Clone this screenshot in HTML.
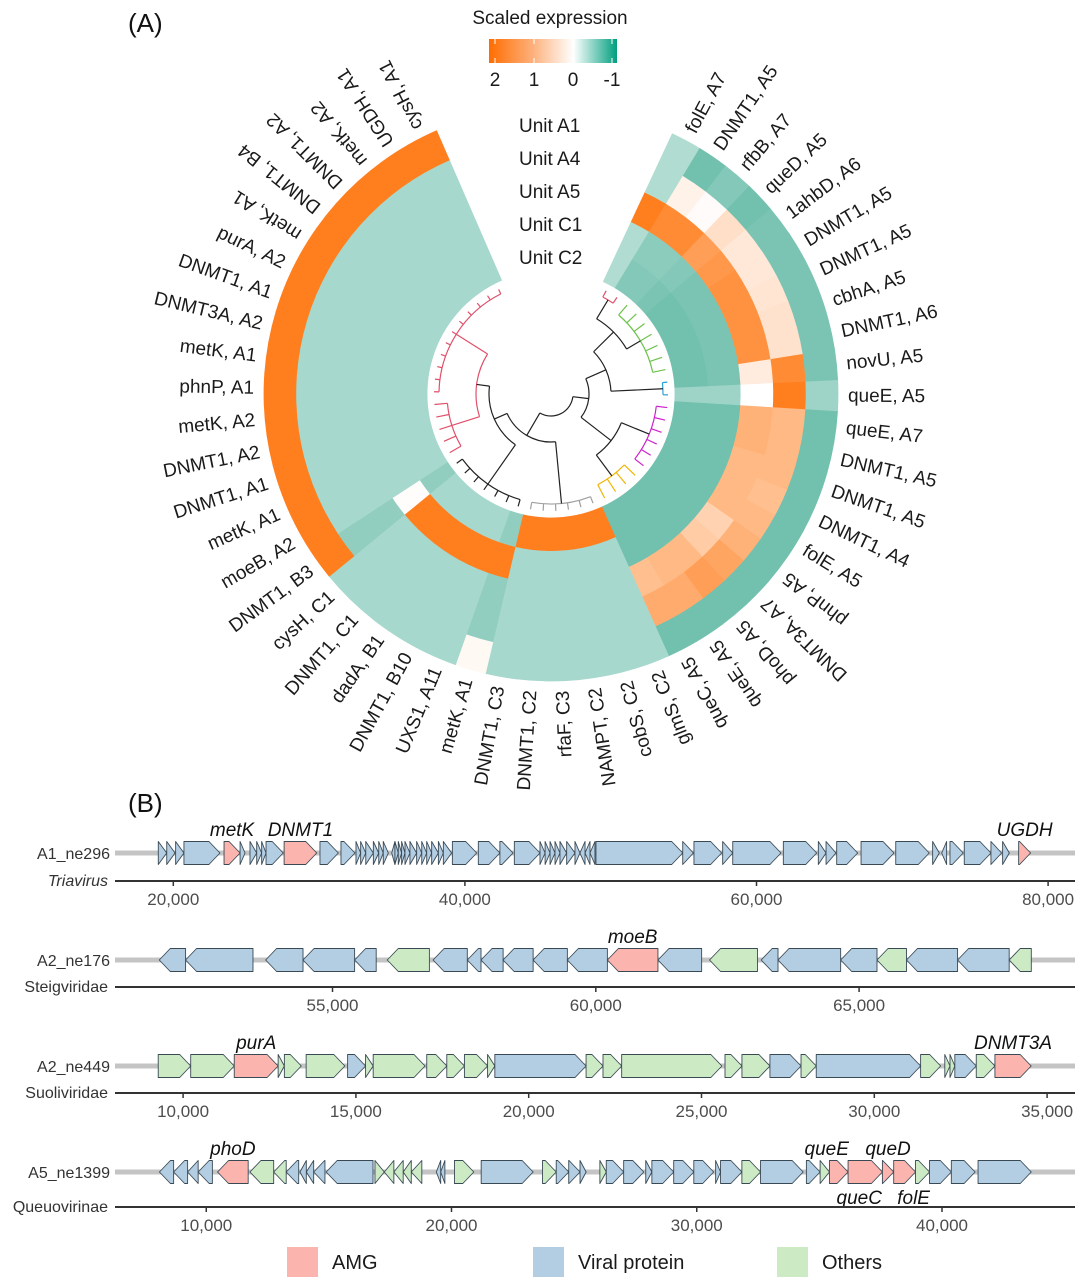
<!DOCTYPE html>
<html><head><meta charset="utf-8"><style>
body{margin:0;background:#fff;}
svg{display:block;font-family:"Liberation Sans",Arial,sans-serif;}
</style></head><body>
<svg id="fig" width="1080" height="1285" viewBox="0 0 1080 1285" xmlns="http://www.w3.org/2000/svg">
<g id="panelA"></g>
<g id="panelB"></g>
</svg>
<script>
// ---------- Panel A data ----------
const leafLabels = ["folE, A7","DNMT1, A5","rfbB, A7","queD, A5","1ahbD, A6","DNMT1, A5","DNMT1, A5","cbhA, A5","DNMT1, A6","novU, A5","queE, A5","queE, A7","DNMT1, A5","DNMT1, A5","DNMT1, A4","folE, A5","phnP, A5","DNMT3A, A7","phoD, A5","queE, A5","queC, A5","glmS, C2","cobS, C2","NAMPT, C2","rfaF, C3","DNMT1, C2","DNMT1, C3","metK, A1","UXS1, A11","DNMT1, B10","dadA, B1","DNMT1, C1","cysH, C1","DNMT1, B3","moeB, A2","metK, A1","DNMT1, A1","DNMT1, A2","metK, A2","phnP, A1","metK, A1","DNMT3A, A2","DNMT1, A1","purA, A2","metK, A1","DNMT1, B4","DNMT1, A2","metK, A2","UGDH, A1","cysH, A1"];
const unitNames = ["Unit A1","Unit A4","Unit A5","Unit C1","Unit C2"];
const unitA1 = [-0.45,-0.8,-0.7,-0.8,-0.75,-0.75,-0.75,-0.75,-0.75,-0.75,-0.55,-0.8,-0.8,-0.8,-0.8,-0.8,-0.8,-0.8,-0.8,-0.8,-0.8,-0.5,-0.5,-0.5,-0.5,-0.5,-0.5,0.1,-0.5,-0.5,-0.5,-0.5,-0.5,2,2,2,2,2,2,2,2,2,2,2,2,2,2,2,2,2];
const unitA4 = [-0.45,0.2,0.05,0.5,0.35,0.35,0.4,0.45,0.45,1.8,2,1.1,1.1,1.1,1.0,1.1,1.2,1.4,1.5,1.3,1.3,-0.5,-0.5,-0.5,-0.5,-0.5,-0.5,-0.62,-0.5,-0.5,-0.5,-0.5,-0.5,-0.62,-0.5,-0.5,-0.5,-0.5,-0.5,-0.5,-0.5,-0.5,-0.5,-0.5,-0.5,-0.5,-0.5,-0.5,-0.5,-0.5];
const unitA5 = [2,1.8,1.8,1.5,1.6,1.7,1.7,1.7,1.7,0.3,0.0,1.2,1.2,1.1,1.1,1.1,0.7,0.8,1.1,1.1,1.0,-0.5,-0.5,-0.5,-0.5,-0.5,-0.5,-0.62,-0.5,-0.5,-0.5,-0.5,-0.5,-0.62,-0.5,-0.5,-0.5,-0.5,-0.5,-0.5,-0.5,-0.5,-0.5,-0.5,-0.5,-0.5,-0.5,-0.5,-0.5,-0.5];
const unitC1 = [-0.45,-0.65,-0.65,-0.7,-0.75,-0.75,-0.75,-0.75,-0.75,-0.75,-0.55,-0.8,-0.8,-0.8,-0.8,-0.8,-0.8,-0.8,-0.8,-0.8,-0.8,-0.5,-0.5,-0.5,-0.5,-0.5,-0.5,2,2,2,2,2,2,0.03,-0.5,-0.5,-0.5,-0.5,-0.5,-0.5,-0.5,-0.5,-0.5,-0.5,-0.5,-0.5,-0.5,-0.5,-0.5,-0.5];
const unitC2 = [-0.45,-0.7,-0.7,-0.75,-0.8,-0.8,-0.8,-0.8,-0.8,-0.8,-0.55,-0.8,-0.8,-0.8,-0.8,-0.8,-0.8,-0.8,-0.8,-0.8,-0.8,2,2,2,2,2,2,-0.62,-0.5,-0.5,-0.5,-0.5,-0.5,-0.62,-0.5,-0.5,-0.5,-0.5,-0.5,-0.5,-0.5,-0.5,-0.5,-0.5,-0.5,-0.5,-0.5,-0.5,-0.5,-0.5];
const legendTicks = [2,1,0,-1];

// ---------- Panel B data ----------
const track1Genes = [[18.97,19.55,1,"b"],[19.55,20.12,1,"b"],[20.16,20.73,1,"b"],[20.73,23.2,1,"b"],[23.48,24.58,1,"p"],[24.58,24.92,1,"b"],[25.26,25.72,1,"b"],[25.72,26.06,1,"b"],[26.06,26.36,1,"b"],[26.36,27.54,1,"b"],[27.6,29.84,1,"p"],[30.06,31.32,1,"b"],[31.5,32.46,1,"b"],[32.53,32.85,1,"b"],[32.85,33.2,1,"b"],[33.2,33.72,1,"b"],[33.72,34.09,1,"b"],[34.09,34.4,1,"b"],[34.4,34.75,1,"b"],[34.98,35.2,-1,"b"],[35.2,35.43,1,"b"],[35.43,35.66,1,"b"],[35.66,35.89,1,"b"],[35.89,36.23,1,"b"],[36.23,36.69,1,"b"],[36.69,37.04,1,"b"],[37.04,37.38,1,"b"],[37.38,37.72,1,"b"],[37.72,38.18,1,"b"],[38.18,38.52,1,"b"],[38.52,39.09,1,"b"],[39.14,40.81,1,"b"],[40.92,42.4,1,"b"],[42.4,43.3,1,"b"],[43.39,45.15,1,"b"],[45.15,45.5,1,"b"],[45.5,45.84,1,"b"],[45.84,46.18,1,"b"],[46.18,46.52,1,"b"],[46.52,46.98,1,"b"],[46.98,47.55,1,"b"],[47.55,47.89,1,"b"],[47.89,48.24,-1,"b"],[48.24,48.58,-1,"b"],[48.58,48.92,-1,"b"],[48.99,54.94,1,"b"],[54.94,55.67,1,"b"],[55.71,57.61,1,"b"],[57.68,58.37,1,"b"],[58.37,61.68,1,"b"],[61.84,64.13,1,"b"],[64.24,64.77,1,"b"],[64.77,65.45,1,"b"],[65.5,66.94,1,"b"],[67.17,69.43,1,"b"],[69.55,71.85,1,"b"],[72.08,72.54,1,"b"],[72.7,73.04,-1,"b"],[73.27,74.18,1,"b"],[74.25,76.08,1,"b"],[76.08,76.81,1,"b"],[76.88,77.34,1,"b"],[77.98,78.8,1,"p"]];
const track2Genes = [[51.71,52.21,-1,"b"],[52.21,53.49,-1,"b"],[53.73,54.44,-1,"b"],[54.44,55.42,-1,"b"],[55.42,55.83,-1,"b"],[56.04,56.84,-1,"g"],[56.91,57.56,-1,"b"],[57.56,57.82,-1,"b"],[57.82,58.24,-1,"b"],[58.24,58.81,-1,"b"],[58.81,59.46,-1,"b"],[59.46,60.22,-1,"b"],[60.22,61.18,-1,"p"],[61.18,62.01,-1,"b"],[62.16,63.07,-1,"g"],[63.14,63.46,-1,"b"],[63.46,64.65,-1,"b"],[64.65,65.34,-1,"b"],[65.34,65.9,-1,"g"],[65.9,66.87,-1,"b"],[66.87,67.85,-1,"b"],[67.85,68.27,-1,"g"]];
const track3Genes = [[9.28,10.22,1,"g"],[10.22,11.48,1,"g"],[11.48,12.75,1,"p"],[12.75,12.93,1,"g"],[12.93,13.42,1,"g"],[13.56,14.68,1,"g"],[14.76,15.28,1,"b"],[15.28,15.5,1,"g"],[15.5,17.0,1,"g"],[17.05,17.63,1,"g"],[17.63,18.14,1,"g"],[18.14,18.81,1,"g"],[18.81,19.02,1,"g"],[19.02,21.66,1,"b"],[21.66,22.15,1,"g"],[22.15,22.69,1,"g"],[22.69,25.59,1,"g"],[25.68,26.17,1,"g"],[26.17,26.98,1,"g"],[26.98,27.88,1,"b"],[27.88,28.32,1,"g"],[28.32,31.34,1,"b"],[31.34,31.92,1,"g"],[32.04,32.19,1,"g"],[32.19,32.33,1,"g"],[32.33,32.95,1,"b"],[32.95,33.49,1,"g"],[33.49,34.54,1,"p"]];
const track4Genes = [[8.09,8.67,-1,"b"],[8.67,9.24,-1,"b"],[9.24,9.67,-1,"b"],[9.67,10.25,-1,"b"],[10.46,11.71,-1,"p"],[11.78,12.75,-1,"g"],[12.75,13.26,-1,"g"],[13.26,13.77,-1,"b"],[13.82,14.08,-1,"b"],[14.08,14.38,-1,"b"],[14.38,14.84,-1,"b"],[14.89,16.8,-1,"b"],[16.88,17.26,1,"g"],[17.26,17.65,-1,"g"],[17.65,18.03,-1,"g"],[18.03,18.36,-1,"g"],[18.36,18.79,-1,"g"],[19.38,19.56,-1,"b"],[19.56,19.73,-1,"b"],[20.12,20.91,1,"g"],[21.21,23.33,1,"b"],[23.71,24.27,1,"g"],[24.27,24.78,1,"b"],[24.78,25.24,1,"b"],[25.24,25.49,1,"b"],[26.05,26.31,1,"g"],[26.31,27.02,1,"b"],[27.02,27.84,1,"b"],[27.92,28.17,1,"b"],[28.17,29.06,1,"b"],[29.06,29.88,1,"b"],[29.88,30.69,1,"b"],[30.77,30.97,1,"b"],[30.97,31.84,1,"b"],[31.84,32.6,1,"g"],[32.6,34.34,1,"b"],[34.47,35.03,1,"b"],[35.03,35.41,1,"g"],[35.41,36.17,1,"p"],[36.17,37.57,1,"p"],[37.57,38.03,1,"p"],[38.03,38.92,1,"p"],[38.92,39.49,1,"g"],[39.49,40.38,1,"b"],[40.38,41.35,1,"b"],[41.47,43.64,1,"b"]];
const track1Ticks = [20,40,60,80];
const track2Ticks = [55,60,65];
const track3Ticks = [10,15,20,25,30,35];
const track4Ticks = [10,20,30,40];
// [gene index, label, side(-1 above, 1 below), x nudge]
const track1Labels = [[4,"metK",-1,0],[10,"DNMT1",-1,0],[62,"UGDH",-1,0]];
const track2Labels = [[12,"moeB",-1,0]];
const track3Labels = [[2,"purA",-1,0],[27,"DNMT3A",-1,0]];
const track4Labels = [[4,"phoD",-1,0],[38,"queE",-1,-12],[40,"queD",-1,0],[39,"queC",1,-6],[41,"folE",1,9]];

const NS="http://www.w3.org/2000/svg";
function mk(tag, attrs, parent){const e=document.createElementNS(NS,tag);for(const k in attrs)e.setAttribute(k,attrs[k]);parent.appendChild(e);return e;}

// ---------- Panel A ----------
const A=document.getElementById('panelA');
const cx=551, cy=394, rOut=287, ringW=32.6, a0=25, nLeaf=leafLabels.length, aStep=(336.5-25)/nLeaf;
function pol(r,deg){const t=deg*Math.PI/180;return [cx+r*Math.sin(t), cy-r*Math.cos(t)];}
function mix(c1,c2,t){return c1.map((v,i)=>Math.round(v+(c2[i]-v)*t));}
function colorOf(v){
  const W=[255,255,255], O=[255,109,0], T=[20,150,120];
  let c;
  if(v>=0){c=mix(W,O,Math.min(v,2)/2);c=mix(W,c,0.88);}
  else {c=mix(W,T,Math.min(-v,1));c=mix(W,c,0.75);}
  return `rgb(${c[0]},${c[1]},${c[2]})`;
}
const units=[unitA1,unitA4,unitA5,unitC1,unitC2];
units.forEach((arr,k)=>{
  const ro=rOut-k*ringW, ri=ro-ringW;
  arr.forEach((v,i)=>{
    const s=a0+i*aStep, e=s+aStep;
    const p1=pol(ro,s),p2=pol(ro,e),p3=pol(ri,e),p4=pol(ri,s);
    const col=colorOf(v);
    const el=mk('path',{d:`M${p1} A${ro},${ro} 0 0 1 ${p2} L${p3} A${ri},${ri} 0 0 0 ${p4}Z`,fill:col,stroke:col,'stroke-width':0.8},A);
    
    
  });
});
// leaf labels
leafLabels.forEach((lab,i)=>{
  const ang=a0+(i+0.5)*aStep;
  const p=pol(297,ang);
  const rightStyle = (i<16 || i>=44);
  const rot = rightStyle ? ang-90 : ang+90;
  const t=mk('text',{x:p[0],y:p[1],'font-size':19,fill:'#1a1a1a','dominant-baseline':'central','text-anchor':rightStyle?'start':'end',transform:`rotate(${rot} ${p[0]} ${p[1]})`},A);
  t.textContent=lab;
  
  
});
// unit labels
unitNames.forEach((u,k)=>{
  const t=mk('text',{x:519,y:132+k*33,'font-size':19,fill:'#1a1a1a'},A);
  t.textContent=u;
  
  
});
// dendrogram (visual approximation)
const clusterColor={r1:'#e0506a',gr:'#6cc24a',bl:'#2a9fd6',mg:'#cc22cc',ye:'#f0b400',gy:'#a0a0a0',bk:'#222',r2:'#e0506a'};
function leafRange(a,b,c,rr){const n={kids:[],c:c,r:rr};for(let i=a;i<=b;i++)n.kids.push({leaf:i,c:c});return n;}
const tree={r:22,c:'bk',kids:[
  {r:38,c:'bk',kids:[
    {r:60,c:'bk',kids:[{r:88,c:'bk',kids:[leafRange(0,1,'r1',110),leafRange(2,8,'gr',104)]},leafRange(9,10,'bl',112)]},
    {r:76,c:'bk',kids:[leafRange(11,16,'mg',106),leafRange(17,20,'ye',102)]}]},
  {r:48,c:'bk',kids:[leafRange(21,26,'gy',110),
    {r:62,c:'bk',kids:[leafRange(27,33,'bk',110),{r:75,c:'r2',kids:[leafRange(34,38,'r2',104),leafRange(39,49,'r2',112)]}]}]}]};
const D=mk('g',{},A);


function drawNode(n){
  if(n.leaf!==undefined){return {ang:a0+(n.leaf+0.5)*aStep,r:117};}
  const res=n.kids.map(drawNode);
  const col=clusterColor[n.c];
  res.forEach(ch=>{const p1=pol(ch.r,ch.ang),p2=pol(n.r,ch.ang);mk('line',{x1:p1[0],y1:p1[1],x2:p2[0],y2:p2[1],stroke:col,'stroke-width':1.2},D);});
  const angs=res.map(c=>c.ang), mn=Math.min(...angs), mx=Math.max(...angs);
  const q1=pol(n.r,mn),q2=pol(n.r,mx);
  mk('path',{d:`M${q1} A${n.r},${n.r} 0 ${mx-mn>180?1:0} 1 ${q2}`,fill:'none',stroke:col,'stroke-width':1.2},D);
  return {ang:(mn+mx)/2,r:n.r};
}
drawNode(tree);
// legend
const tA=mk('text',{x:128,y:32,'font-size':26,fill:'#111'},A);tA.textContent='(A)';


const lt=mk('text',{x:550,y:24,'font-size':19,fill:'#1a1a1a','text-anchor':'middle'},A);lt.textContent='Scaled expression';


const defs=mk('defs',{},A);
const lg=mk('linearGradient',{id:'gradLeg',x1:0,x2:1,y1:0,y2:0},defs);
[[0,'#ff6d00'],[0.33,'#fdae77'],[0.66,'#ffffff'],[1,'#009e7e']].forEach(s=>mk('stop',{offset:s[0],'stop-color':s[1]},lg));
const bar=mk('rect',{x:489,y:39,width:128,height:24,fill:'url(#gradLeg)'},A);


const legX=v=>495+(2-v)*(612-495)/3;
legendTicks.forEach(v=>{
  const x=legX(v);
  mk('line',{x1:x,y1:39,x2:x,y2:44,stroke:'#fff','stroke-width':1},A);
  mk('line',{x1:x,y1:58,x2:x,y2:63,stroke:'#fff','stroke-width':1},A);
  const t=mk('text',{x:x,y:86,'font-size':19,fill:'#1a1a1a','text-anchor':'middle'},A);t.textContent=String(v);
  
  
});

// ---------- Panel B ----------
const B=document.getElementById('panelB');
const fills={p:'#fbb4ae',b:'#b3cde3',g:'#ccebc5'};
const tB=mk('text',{x:128,y:812,'font-size':26,fill:'#111'},B);tB.textContent='(B)';


const tracks=[
  {name:'A1_ne296',tax:'Triavirus',ital:true,genes:track1Genes,ticks:track1Ticks,labels:track1Labels,yc:853,ya:881,x0:173.3,v0:20,k:14.58},
  {name:'A2_ne176',tax:'Steigviridae',ital:false,genes:track2Genes,ticks:track2Ticks,labels:track2Labels,yc:960,ya:987,x0:332.5,v0:55,k:52.66},
  {name:'A2_ne449',tax:'Suoliviridae',ital:false,genes:track3Genes,ticks:track3Ticks,labels:track3Labels,yc:1066,ya:1093,x0:183.1,v0:10,k:34.56},
  {name:'A5_ne1399',tax:'Queuovirinae',ital:false,genes:track4Genes,ticks:track4Ticks,labels:track4Labels,yc:1172,ya:1207,x0:206.25,v0:10,k:24.525}];
tracks.forEach((tr,ti)=>{
  const g=mk('g',{},B);
  
  
  const xs=v=>tr.x0+(v-tr.v0)*tr.k;
  mk('line',{x1:115,y1:tr.yc,x2:1075,y2:tr.yc,stroke:'#c4c4c4','stroke-width':5},g);
  const h=11.5;
  tr.genes.forEach((ge,gi)=>{
    const xa=xs(ge[0]), xb=xs(ge[1]), w=xb-xa, hd=Math.min(w,11);
    let d;
    if(ge[2]>0) d=`M${xa},${tr.yc-h} L${xb-hd},${tr.yc-h} L${xb},${tr.yc} L${xb-hd},${tr.yc+h} L${xa},${tr.yc+h}Z`;
    else d=`M${xb},${tr.yc-h} L${xa+hd},${tr.yc-h} L${xa},${tr.yc} L${xa+hd},${tr.yc+h} L${xb},${tr.yc+h}Z`;
    const p=mk('path',{d:d,fill:fills[ge[3]],stroke:'#3a4a55','stroke-width':0.9,'stroke-linejoin':'round'},g);
    
    
  });
  tr.labels.forEach(lb=>{
    const ge=tr.genes[lb[0]], x=xs((ge[0]+ge[1])/2)+lb[3];
    const t=mk('text',{x:x,y:lb[2]<0?tr.yc-17:tr.yc+32,'font-size':19,'font-style':'italic',fill:'#111','text-anchor':'middle'},g);
    t.textContent=lb[1];
    
    
  });
  mk('line',{x1:115,y1:tr.ya,x2:1075,y2:tr.ya,stroke:'#333','stroke-width':2},g);
  tr.ticks.forEach(v=>{
    const x=xs(v);
    mk('line',{x1:x,y1:tr.ya,x2:x,y2:tr.ya+5,stroke:'#333','stroke-width':1.5},g);
    const t=mk('text',{x:x,y:tr.ya+24,'font-size':17,fill:'#4d4d4d','text-anchor':'middle'},g);
    t.textContent=(v*1000).toLocaleString('en-US');
    
    
  });
  const n=mk('text',{x:110,y:tr.yc+6,'font-size':16,fill:'#333','text-anchor':'end'},g);n.textContent=tr.name;
  
  
  const tx=mk('text',{x:108,y:tr.ya+5,'font-size':16,fill:'#333','text-anchor':'end','font-style':tr.ital?'italic':'normal'},g);tx.textContent=tr.tax;
  
  
});
// legend
[[287,'#fbb4ae','AMG'],[533,'#b3cde3','Viral protein'],[777,'#ccebc5','Others']].forEach((L,i)=>{
  const r=mk('rect',{x:L[0],y:1247,width:31,height:30,fill:L[1]},B);
  
  
  const t=mk('text',{x:L[0]+45,y:1269,'font-size':20,fill:'#1a1a1a'},B);t.textContent=L[2];
  
  
});
</script>
</body></html>
